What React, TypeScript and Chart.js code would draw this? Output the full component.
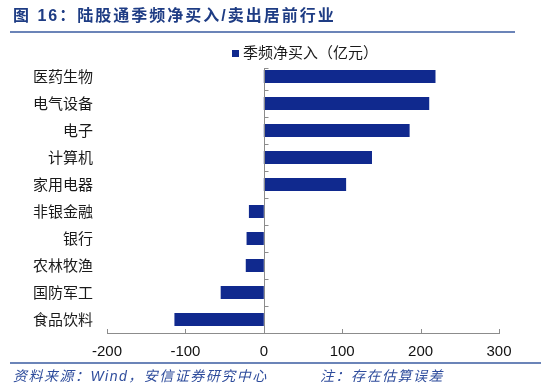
import React, { useEffect, useRef } from "react";
import { Chart, registerables } from "chart.js";

Chart.register(...registerables);

const categories = ["医药生物", "电气设备", "电子", "计算机", "家用电器", "非银金融", "银行", "农林牧渔", "国防军工", "食品饮料"];
const netBuy = [219, 211, 186, 138, 105, -19, -22, -23, -55, -114];
const xMin = -200;
const xMax = 300;
const xStep = 100;
const seriesName = "季频净买入（亿元）";
const titleText = "图 16：陆股通季频净买入/卖出居前行业";
const sourceText = "资料来源：Wind，安信证券研究中心";
const noteText = "注：存在估算误差";

const CJK = '"Liberation Sans", "Noto Sans CJK SC", sans-serif';
const BAR = "#10298E";
const NAVY = "#1E3C84";
const LINEBLUE = "#3A5BA0";

const decor = {
  id: "decor",
  afterDraw(chart: any) {
    const ctx = chart.ctx as CanvasRenderingContext2D;
    const xs = chart.scales.x;
    const ys = chart.scales.y;
    const area = chart.chartArea;
    ctx.save();

    // title
    ctx.fillStyle = NAVY;
    ctx.font = `bold 16px ${CJK}`;
    (ctx as any).letterSpacing = "2px";
    ctx.textBaseline = "middle";
    ctx.textAlign = "left";
    ctx.fillText(titleText, 13, 17);
    (ctx as any).letterSpacing = "0px";

    // title underline
    ctx.strokeStyle = LINEBLUE;
    ctx.lineWidth = 1.5;
    ctx.beginPath();
    ctx.moveTo(10, 32);
    ctx.lineTo(515, 32);
    ctx.stroke();

    // legend
    ctx.fillStyle = BAR;
    ctx.fillRect(232, 50, 7, 7);
    ctx.fillStyle = "#1a1a1a";
    ctx.font = `15px ${CJK}`;
    ctx.textBaseline = "middle";
    ctx.fillText(seriesName, 243, 54);

    // zero line with ticks
    const x0 = Math.round(xs.getPixelForValue(0)) + 0.5;
    ctx.strokeStyle = "#8c8c8c";
    ctx.lineWidth = 1;
    ctx.beginPath();
    ctx.moveTo(x0, 68);
    ctx.lineTo(x0, area.bottom);
    ctx.stroke();
    const n = categories.length;
    const band = (area.bottom - area.top) / n;
    ctx.beginPath();
    ctx.moveTo(x0, 68.5);
    ctx.lineTo(x0 + 4, 68.5);
    for (let i = 1; i < n; i++) {
      const y = Math.round(area.top + band * i) + 0.5;
      ctx.moveTo(x0, y);
      ctx.lineTo(x0 + 4, y);
    }
    ctx.stroke();

    // x ticks pointing up
    ctx.beginPath();
    for (let v = xMin; v <= xMax; v += xStep) {
      const x = Math.round(xs.getPixelForValue(v)) + 0.5;
      ctx.moveTo(x, area.bottom);
      ctx.lineTo(x, area.bottom - 4);
    }
    ctx.stroke();

    // footer line
    ctx.strokeStyle = LINEBLUE;
    ctx.lineWidth = 1.5;
    ctx.beginPath();
    ctx.moveTo(10, 363);
    ctx.lineTo(541, 363);
    ctx.stroke();

    // footer texts
    ctx.fillStyle = "#2E4C9C";
    ctx.font = `italic 14px ${CJK}`;
    (ctx as any).letterSpacing = "1.5px";
    ctx.textBaseline = "middle";
    ctx.fillText(sourceText, 13, 377);
    ctx.fillText(noteText, 320, 377);
    (ctx as any).letterSpacing = "0px";

    ctx.restore();
  },
};

export default function App() {
  const ref = useRef<HTMLCanvasElement | null>(null);
  useEffect(() => {
    if (!ref.current) return;
    const chart = new Chart(ref.current, {
      type: "bar",
      data: {
        labels: categories,
        datasets: [
          {
            label: seriesName,
            data: netBuy,
            backgroundColor: BAR,
            borderWidth: 0,
            categoryPercentage: 1,
            barPercentage: 0.48,
          },
        ],
      },
      options: {
        indexAxis: "y",
        animation: false,
        responsive: true,
        maintainAspectRatio: false,
        layout: { padding: { left: 0, right: 51, top: 63, bottom: 0 } },
        plugins: {
          legend: { display: false },
          tooltip: { enabled: false },
          title: { display: false },
        },
        scales: {
          x: {
            type: "linear",
            min: xMin,
            max: xMax,
            ticks: {
              stepSize: xStep,
              padding: 10,
              color: "#111",
              font: { family: "Liberation Sans", size: 15 },
            },
            grid: { display: false, drawTicks: false },
            border: { display: true, color: "#8c8c8c", width: 1 },
            afterFit(scale: any) {
              scale.height = 59;
            },
          },
          y: {
            type: "category",
            ticks: {
              padding: 14,
              color: "#1a1a1a",
              font: { family: "Noto Sans CJK SC", size: 15 },
            },
            grid: { display: false, drawTicks: false },
            border: { display: false },
            afterFit(scale: any) {
              scale.width = 107;
            },
          },
        },
      },
      plugins: [decor],
    });
    return () => chart.destroy();
  }, []);
  return (
    <div style={{ position: "fixed", left: 0, top: 0, width: 550, height: 392, background: "#fff" }}>
      <canvas ref={ref} width={550} height={392} />
    </div>
  );
}
